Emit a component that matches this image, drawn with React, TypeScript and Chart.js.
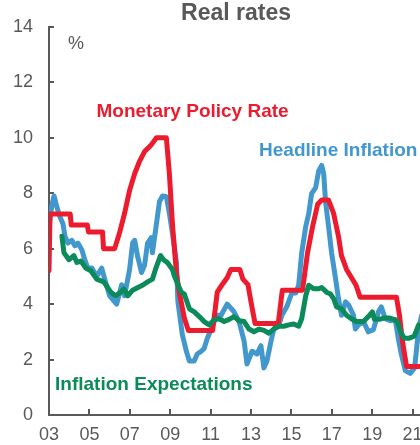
import React, { useEffect, useRef } from "react";
import { Chart, registerables } from "chart.js";

Chart.register(...registerables);

// Monetary policy rate (step series)
const policyDates = [
  2003.0, 2003.05, 2004.05, 2004.1, 2004.9, 2004.95, 2005.65, 2005.7, 2006.25, 2006.49,
  2006.74, 2006.99, 2007.24, 2007.48, 2007.73, 2008.07, 2008.32, 2008.81, 2008.96, 2009.11,
  2009.31, 2009.45, 2009.7, 2009.9, 2011.1, 2011.33, 2011.57, 2011.82, 2012.0, 2012.45,
  2012.6, 2012.85, 2013.0, 2013.2, 2014.35, 2014.55, 2015.55, 2015.8, 2016.05, 2016.3,
  2016.5, 2016.84, 2017.09, 2017.33, 2017.48, 2017.73, 2017.97, 2018.2, 2018.4, 2020.2,
  2020.35, 2020.5, 2020.7, 2021.45,
];
const policyRate = [
  5.2, 7.25, 7.25, 6.85, 6.85, 6.6, 6.6, 6.0, 6.0, 6.56,
  7.27, 8.1, 8.7, 9.15, 9.5, 9.75, 10.0, 10.0, 8.7, 6.9,
  5.1, 4.43, 3.5, 3.05, 3.05, 4.43, 4.7, 4.95, 5.25, 5.25,
  4.9, 4.7, 4.08, 3.3, 3.3, 4.5, 4.5, 5.85, 6.8, 7.6,
  7.75, 7.75, 7.27, 6.45, 5.75, 5.25, 4.96, 4.68, 4.25, 4.25,
  3.6, 2.66, 1.75, 1.75,
];

// Headline inflation
const inflationDates = [
  2003.0, 2003.15, 2003.25, 2003.39, 2003.54, 2003.69, 2003.79, 2003.94, 2004.13, 2004.28,
  2004.43, 2004.63, 2004.77, 2004.92, 2005.12, 2005.36, 2005.61, 2005.76, 2006.0, 2006.35,
  2006.6, 2006.74, 2006.99, 2007.14, 2007.24, 2007.38, 2007.58, 2007.73, 2007.88, 2008.07,
  2008.12, 2008.32, 2008.47, 2008.62, 2008.81, 2008.96, 2009.11, 2009.31, 2009.38, 2009.45,
  2009.6, 2009.8, 2009.95, 2010.19, 2010.34, 2010.54, 2010.68, 2010.83, 2011.03, 2011.18,
  2011.33, 2011.52, 2011.67, 2011.82, 2011.95, 2012.16, 2012.41, 2012.66, 2012.8, 2013.05,
  2013.3, 2013.49, 2013.64, 2013.79, 2013.99, 2014.13, 2014.38, 2014.53, 2014.77, 2015.02,
  2015.22, 2015.36, 2015.51, 2015.71, 2015.86, 2016.0, 2016.2, 2016.35, 2016.5, 2016.6,
  2016.69, 2016.84, 2016.99, 2017.19, 2017.33, 2017.48, 2017.68, 2017.83, 2018.07, 2018.17,
  2018.32, 2018.57, 2018.81, 2019.06, 2019.31, 2019.45, 2019.65, 2019.9, 2020.14, 2020.29,
  2020.44, 2020.64, 2020.88, 2021.1, 2021.3, 2021.45,
];
const headlineInflation = [
  6.8, 7.6, 7.9, 7.5, 7.15, 6.9, 6.45, 6.2, 6.3, 6.1,
  6.2, 5.95, 5.6, 5.3, 5.3, 5.0, 5.3, 4.9, 4.3, 4.0,
  4.7, 4.3, 5.25, 6.2, 6.3, 5.75, 5.14, 5.4, 6.2, 6.4,
  5.85, 6.9, 7.7, 7.9, 7.87, 7.27, 6.56, 5.5, 4.1, 3.72,
  2.9, 2.3, 1.95, 1.95, 2.2, 2.3, 2.4, 2.75, 3.1, 3.37,
  3.6, 3.6, 3.8, 4.0, 3.9, 3.72, 3.37, 2.66, 1.84, 2.3,
  2.2, 2.5, 1.7, 1.95, 2.66, 3.1, 3.25, 3.6, 3.9, 4.4,
  4.4, 4.68, 5.85, 6.8, 7.27, 7.98, 8.2, 8.8, 9.0, 8.7,
  7.7, 6.8, 5.85, 4.9, 4.2, 3.6, 4.08, 3.97, 3.6, 3.1,
  3.25, 3.37, 3.0, 3.08, 3.72, 3.9, 3.47, 3.4, 3.45, 2.77,
  2.2, 1.6, 1.5, 1.7, 3.1, 3.6,
];

// Inflation expectations
const expectationDates = [
  2003.64, 2003.74, 2003.99, 2004.23, 2004.38, 2004.58, 2004.82, 2005.07, 2005.36, 2005.71,
  2006.06, 2006.3, 2006.55, 2006.7, 2006.9, 2007.14, 2007.4, 2007.63, 2007.88, 2008.12,
  2008.27, 2008.52, 2008.67, 2008.86, 2009.11, 2009.2, 2009.4, 2009.55, 2009.7, 2009.95,
  2010.19, 2010.44, 2010.68, 2010.93, 2011.18, 2011.42, 2011.67, 2011.92, 2012.16, 2012.41,
  2012.66, 2012.9, 2013.15, 2013.4, 2013.64, 2013.89, 2014.13, 2014.38, 2014.62, 2014.87,
  2015.12, 2015.36, 2015.51, 2015.71, 2015.86, 2016.1, 2016.35, 2016.5, 2016.74, 2016.94,
  2017.09, 2017.24, 2017.48, 2017.73, 2017.97, 2018.22, 2018.57, 2018.81, 2019.01, 2019.11,
  2019.36, 2019.6, 2019.85, 2020.09, 2020.24, 2020.44, 2020.59, 2020.83, 2021.08, 2021.3,
];
const inflationExpectations = [
  6.45, 5.85, 5.6, 5.75, 5.5, 5.55, 5.3, 5.2, 4.9, 4.8,
  4.43, 4.3, 4.43, 4.55, 4.3, 4.5, 4.6, 4.68, 4.8, 4.9,
  5.25, 5.75, 5.6, 5.5, 5.25, 5.03, 4.68, 4.43, 4.36, 3.83,
  3.72, 3.55, 3.37, 3.25, 3.44, 3.47, 3.37, 3.45, 3.55, 3.4,
  3.37, 3.1, 3.0, 3.1, 3.05, 2.95, 3.1, 3.2, 3.2, 3.25,
  3.28, 3.2, 3.47, 4.3, 4.68, 4.55, 4.55, 4.6, 4.43, 4.36,
  4.2, 3.9, 3.83, 3.6, 3.47, 3.37, 3.37, 3.55, 3.72, 3.45,
  3.45, 3.5, 3.5, 3.44, 3.37, 2.95, 2.77, 2.77, 2.84, 3.25,
];

const yTickValues = [0, 2, 4, 6, 8, 10, 12, 14];
const xTickYears = [2003, 2005, 2007, 2009, 2011, 2013, 2015, 2017, 2019, 2021, 2023];

const RED = "#EC1C2E";
const BLUE = "#4297CD";
const GREEN = "#0B8A5A";
const GREY = "#595959";
const FONT = "'Liberation Sans', Arial, sans-serif";

const toPoints = (xs: number[], ys: number[]) => xs.map((x, i) => ({ x, y: ys[i] }));

const decorPlugin = {
  id: "decor",
  beforeDatasetsDraw(chart: any) {
    const { ctx, scales } = chart;
    const xs = scales.x;
    const ys = scales.y;
    ctx.save();
    ctx.strokeStyle = GREY;
    ctx.lineWidth = 2;
    yTickValues.forEach((v) => {
      const py = Math.round(ys.getPixelForValue(v));
      ctx.beginPath();
      ctx.moveTo(xs.left, py);
      ctx.lineTo(xs.left + 5, py);
      ctx.stroke();
    });
    xTickYears.forEach((yr) => {
      const px = Math.round(xs.getPixelForValue(yr));
      ctx.beginPath();
      ctx.moveTo(px, ys.bottom);
      ctx.lineTo(px, ys.bottom - 6);
      ctx.stroke();
    });
    ctx.restore();
  },
  afterDraw(chart: any) {
    const { ctx, scales } = chart;
    const xs = scales.x;
    const ys = scales.y;
    ctx.save();
    ctx.textBaseline = "alphabetic";
    // title
    ctx.fillStyle = GREY;
    ctx.font = `bold 23px ${FONT}`;
    ctx.textAlign = "center";
    ctx.fillText("Real rates", 236, 20);
    // unit
    ctx.font = `18px ${FONT}`;
    ctx.textAlign = "left";
    ctx.fillText("%", xs.left + 19, ys.getPixelForValue(13.2));
    // series labels
    ctx.font = `bold 19px ${FONT}`;
    ctx.fillStyle = RED;
    ctx.fillText("Monetary Policy Rate", xs.getPixelForValue(2005.35), ys.getPixelForValue(10.75));
    ctx.fillStyle = BLUE;
    ctx.fillText("Headline Inflation", xs.getPixelForValue(2013.4), ys.getPixelForValue(9.35));
    ctx.fillStyle = GREEN;
    ctx.fillText("Inflation Expectations", xs.getPixelForValue(2003.3), ys.getPixelForValue(0.9));
    ctx.restore();
  },
};

export default function App() {
  const canvasRef = useRef<HTMLCanvasElement | null>(null);

  useEffect(() => {
    if (!canvasRef.current) return;
    const lineStyle = {
      borderWidth: 5,
      pointRadius: 0,
      tension: 0,
      borderJoinStyle: "round" as const,
      borderCapStyle: "round" as const,
      fill: false,
    };
    const chart = new Chart(canvasRef.current, {
      type: "line",
      data: {
        datasets: [
          { label: "Inflation Expectations", data: toPoints(expectationDates, inflationExpectations), borderColor: GREEN, ...lineStyle },
          { label: "Monetary Policy Rate", data: toPoints(policyDates, policyRate), borderColor: RED, ...lineStyle },
          { label: "Headline Inflation", data: toPoints(inflationDates, headlineInflation), borderColor: BLUE, ...lineStyle },
        ],
      },
      options: {
        responsive: false,
        animation: false,
        devicePixelRatio: 1,
        layout: { padding: { top: 20, right: 17, left: 0, bottom: 0 } },
        plugins: {
          legend: { display: false },
          title: { display: false },
          tooltip: { enabled: false },
        },
        scales: {
          x: {
            type: "linear",
            min: 2003,
            max: 2023,
            grid: { display: false, drawTicks: false },
            border: { display: true, color: GREY, width: 2 },
            afterFit: (s: any) => { s.height = 30; },
            afterBuildTicks: (s: any) => { s.ticks = xTickYears.map((v) => ({ value: v })); },
            ticks: {
              padding: 9,
              color: GREY,
              font: { family: FONT, size: 18 },
              maxRotation: 0,
              autoSkip: false,
              callback: (v: any) => String(Number(v) % 100).padStart(2, "0"),
            },
          },
          y: {
            min: 0,
            max: 14,
            grid: { display: false, drawTicks: false },
            border: { display: true, color: GREY, width: 2 },
            afterFit: (s: any) => { s.width = 49; },
            afterBuildTicks: (s: any) => { s.ticks = yTickValues.map((v) => ({ value: v })); },
            ticks: {
              padding: 16,
              color: GREY,
              font: { family: FONT, size: 18 },
              callback: (v: any) => String(v),
            },
          },
        },
      },
      plugins: [decorPlugin],
    });
    return () => chart.destroy();
  }, []);

  return (
    <div style={{ position: "fixed", left: 0, top: 0, width: 420, height: 445, overflow: "hidden", background: "#fff" }}>
      <canvas ref={canvasRef} width={472} height={445} style={{ display: "block" }} />
    </div>
  );
}
